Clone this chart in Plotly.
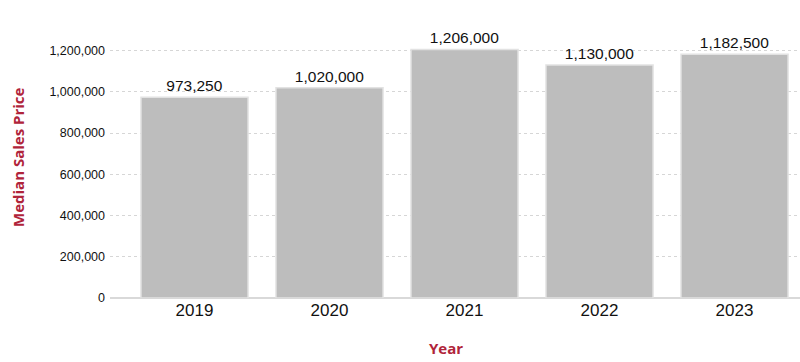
import plotly.graph_objects as go

years = ["2019", "2020", "2021", "2022", "2023"]
prices = [973250, 1020000, 1206000, 1130000, 1182500]
labels = ["973,250", "1,020,000", "1,206,000", "1,130,000", "1,182,500"]
ytick_vals = [0, 200000, 400000, 600000, 800000, 1000000, 1200000]
ytick_text = ["0", "200,000", "400,000", "600,000", "800,000", "1,000,000", "1,200,000"]

W, H = 800, 362
L, R, T, B = 110, 0, 30, 64

fig = go.Figure(go.Bar(
    x=years, y=prices, text=labels, textposition="outside",
    textfont=dict(family="Liberation Sans, Arial", size=15.5, color="#111"),
    marker=dict(color="#bdbdbd", line=dict(color="#e2e2e2", width=1.5)),
    cliponaxis=False, hoverinfo="skip",
))

fig.update_layout(
    width=W, height=H, margin=dict(l=L, r=R, t=T, b=B),
    plot_bgcolor="white", paper_bgcolor="white",
    bargap=0.207, showlegend=False,
    font=dict(family="Liberation Sans, Arial", color="#111"),
    xaxis=dict(type="category", range=[-0.626, 4.485], showgrid=False,
               tickfont=dict(size=17), ticks="", showline=False, zeroline=False),
    yaxis=dict(range=[0, 1300000], tickvals=ytick_vals, ticktext=ytick_text,
               tickfont=dict(size=12.5), showgrid=True, gridcolor="#d6d6d6",
               griddash="3px,3px", gridwidth=1, zeroline=True, zerolinecolor="#d9d9d9",
               zerolinewidth=2, ticks="", ticklabelstandoff=4),
    annotations=[
        dict(text="<b>Year</b>", xref="paper", yref="paper",
             x=(446 - L) / (W - L - R), y=-(348 - (H - B)) / (H - T - B),
             showarrow=False, xanchor="center", yanchor="middle",
             font=dict(family="Open Sans", size=15, color="#b0243a")),
        dict(text="<b>Median Sales Price</b>", xref="paper", yref="paper",
             x=-(L - 18) / (W - L - R), y=((H - B) - 157) / (H - T - B),
             showarrow=False, xanchor="center", yanchor="middle", textangle=-90,
             font=dict(family="Open Sans", size=15, color="#b0243a")),
    ],
)

fig.write_html("out.html")
